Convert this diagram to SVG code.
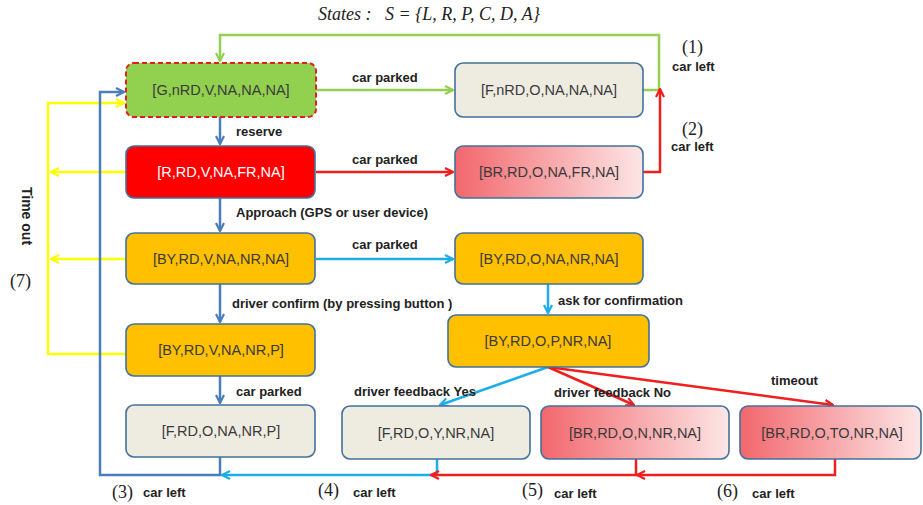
<svg xmlns="http://www.w3.org/2000/svg" width="923" height="505" viewBox="0 0 923 505">
<style>
.node{stroke:#41719C;stroke-width:1.6}
.nt{font-family:"Liberation Sans",Arial,sans-serif;font-size:14.5px;text-anchor:middle;fill:#3a3a3a}
.lb{font-family:"Liberation Sans",Arial,sans-serif;font-size:13px;font-weight:bold;fill:#222}
.num{font-family:"Liberation Serif","Times New Roman",serif;font-size:18px;fill:#222}
.c{fill:none;stroke-width:2.5}
.blue{stroke:#4A7EBB}.cyan{stroke:#1EADE6}.red{stroke:#F01E1E}.green{stroke:#92D050}.yellow{stroke:#FFFF00}
</style>
<defs>
<linearGradient id="pink" x1="0" y1="0" x2="1" y2="0">
<stop offset="0" stop-color="#F2676D"/><stop offset="1" stop-color="#FDE6E6"/>
</linearGradient>
<marker id="aB" viewBox="0 0 10 10" refX="9" refY="5" markerWidth="10" markerHeight="10" markerUnits="userSpaceOnUse" orient="auto"><path d="M1,1 L9,5 L1,9" fill="none" stroke="#4A7EBB" stroke-width="2.2"/></marker>
<marker id="aC" viewBox="0 0 10 10" refX="9" refY="5" markerWidth="10" markerHeight="10" markerUnits="userSpaceOnUse" orient="auto"><path d="M1,1 L9,5 L1,9" fill="none" stroke="#1EADE6" stroke-width="2.2"/></marker>
<marker id="aR" viewBox="0 0 10 10" refX="9" refY="5" markerWidth="10" markerHeight="10" markerUnits="userSpaceOnUse" orient="auto"><path d="M1,1 L9,5 L1,9" fill="none" stroke="#F01E1E" stroke-width="2.2"/></marker>
<marker id="aG" viewBox="0 0 10 10" refX="9" refY="5" markerWidth="10" markerHeight="10" markerUnits="userSpaceOnUse" orient="auto"><path d="M1,1 L9,5 L1,9" fill="none" stroke="#92D050" stroke-width="2.2"/></marker>
<marker id="aY" viewBox="0 0 10 10" refX="9" refY="5" markerWidth="10" markerHeight="10" markerUnits="userSpaceOnUse" orient="auto"><path d="M1,1 L9,5 L1,9" fill="none" stroke="#FFFF00" stroke-width="2.2"/></marker>
</defs>
<rect width="923" height="505" fill="#fff"/>

<text x="318" y="20" font-family="Liberation Serif,serif" font-style="italic" font-size="18" fill="#222">States :   <tspan x="385">S = {L, R, P, C, D, A}</tspan></text>

<g id="connectors">
<path class="c green" d="M316,90 H453" marker-end="url(#aG)"/>
<path class="c green" d="M643,90 H659 V35 H220 V61" marker-end="url(#aG)"/>
<path class="c red" d="M316,172 H453" marker-end="url(#aR)"/>
<path class="c red" d="M643,172 H660 V89" marker-end="url(#aR)"/>
<path class="c cyan" d="M316,259 H453" marker-end="url(#aC)"/>
<path class="c cyan" d="M548,284 V313" marker-end="url(#aC)"/>
<path class="c blue" d="M220,117 V144" marker-end="url(#aB)"/>
<path class="c blue" d="M220,198 V231" marker-end="url(#aB)"/>
<path class="c blue" d="M220,284 V322" marker-end="url(#aB)"/>
<path class="c blue" d="M220,376 V403" marker-end="url(#aB)"/>
<path class="c yellow" d="M126,172 H51" marker-end="url(#aY)"/>
<path class="c yellow" d="M126,259 H51" marker-end="url(#aY)"/>
<path class="c yellow" d="M126,354 H48 V103 H124" marker-end="url(#aY)"/>
<path class="c blue" d="M220,457 V475 H100 V92 H124" marker-end="url(#aB)"/>
<path class="c cyan" d="M548,367 L440,405" marker-end="url(#aC)"/>
<path class="c red" d="M548,367 L634,405" marker-end="url(#aR)"/>
<path class="c red" d="M548,367 L833,405" marker-end="url(#aR)"/>
<path class="c cyan" d="M437,459 V475 H222" marker-end="url(#aC)"/>
<path class="c red" d="M636,459 V475 H431" marker-end="url(#aR)"/>
<path class="c red" d="M835,459 V475 H637" marker-end="url(#aR)"/>
</g>

<g id="n-G"><rect x="126" y="63" width="190" height="54" rx="8" fill="#92D050" stroke="#E0201B" stroke-width="2" stroke-dasharray="5,3"/><text class="nt" x="221" y="95">[G,nRD,V,NA,NA,NA]</text></g>
<g id="n-FnRD"><rect class="node" x="455" y="63" width="188" height="54" rx="8" fill="#EEECE1"/><text class="nt" x="549" y="95">[F,nRD,O,NA,NA,NA]</text></g>
<g id="n-R"><rect class="node" x="126" y="146" width="189" height="52" rx="8" fill="#FF0000"/><text class="nt" x="221" y="177" style="fill:#fff">[R,RD,V,NA,FR,NA]</text></g>
<g id="n-BR"><rect class="node" x="455" y="146" width="188" height="52" rx="8" fill="url(#pink)"/><text class="nt" x="549" y="177">[BR,RD,O,NA,FR,NA]</text></g>
<g id="n-BY"><rect class="node" x="126" y="233" width="189" height="51" rx="8" fill="#FFC000"/><text class="nt" x="221" y="264">[BY,RD,V,NA,NR,NA]</text></g>
<g id="n-BYO"><rect class="node" x="455" y="233" width="188" height="51" rx="8" fill="#FFC000"/><text class="nt" x="549" y="264">[BY,RD,O,NA,NR,NA]</text></g>
<g id="n-BYP"><rect class="node" x="126" y="324" width="189" height="52" rx="8" fill="#FFC000"/><text class="nt" x="221" y="355">[BY,RD,V,NA,NR,P]</text></g>
<g id="n-BYOP"><rect class="node" x="448" y="315" width="201" height="52" rx="8" fill="#FFC000"/><text class="nt" x="548" y="346">[BY,RD,O,P,NR,NA]</text></g>
<g id="n-FP"><rect class="node" x="126" y="405" width="189" height="52" rx="8" fill="#EEECE1"/><text class="nt" x="221" y="436">[F,RD,O,NA,NR,P]</text></g>
<g id="n-FY"><rect class="node" x="342" y="406" width="188" height="53" rx="8" fill="#EEECE1"/><text class="nt" x="436" y="438">[F,RD,O,Y,NR,NA]</text></g>
<g id="n-BRN"><rect class="node" x="541" y="406" width="188" height="53" rx="8" fill="url(#pink)"/><text class="nt" x="635" y="438">[BR,RD,O,N,NR,NA]</text></g>
<g id="n-BRTO"><rect class="node" x="740" y="406" width="181" height="53" rx="8" fill="url(#pink)"/><text class="nt" x="832" y="438">[BR,RD,O,TO,NR,NA]</text></g>

<g id="labels">
<text class="lb" x="352" y="82">car parked</text>
<text class="lb" x="236" y="136">reserve</text>
<text class="lb" x="352" y="164">car parked</text>
<text class="lb" x="236" y="217">Approach (GPS or user device)</text>
<text class="lb" x="352" y="249">car parked</text>
<text class="lb" x="232" y="308">driver confirm (by pressing button )</text>
<text class="lb" x="558" y="305">ask for confirmation</text>
<text class="lb" x="236" y="396">car parked</text>
<text class="lb" x="354" y="396">driver feedback Yes</text>
<text class="lb" x="554" y="397">driver feedback No</text>
<text class="lb" x="771" y="385">timeout</text>
<text class="num" x="682" y="53">(1)</text>
<text class="lb" x="672" y="71">car left</text>
<text class="num" x="682" y="135">(2)</text>
<text class="lb" x="671" y="151">car left</text>
<text class="num" x="112" y="498">(3)</text>
<text class="lb" x="143" y="497">car left</text>
<text class="num" x="318" y="496">(4)</text>
<text class="lb" x="353" y="497">car left</text>
<text class="num" x="522" y="496">(5)</text>
<text class="lb" x="554" y="498">car left</text>
<text class="num" x="717" y="497">(6)</text>
<text class="lb" x="752" y="498">car left</text>
<text class="num" x="10" y="287">(7)</text>
<text class="lb" transform="translate(22,216) rotate(90)" text-anchor="middle" style="font-size:14px">Time out</text>
</g>
</svg>
